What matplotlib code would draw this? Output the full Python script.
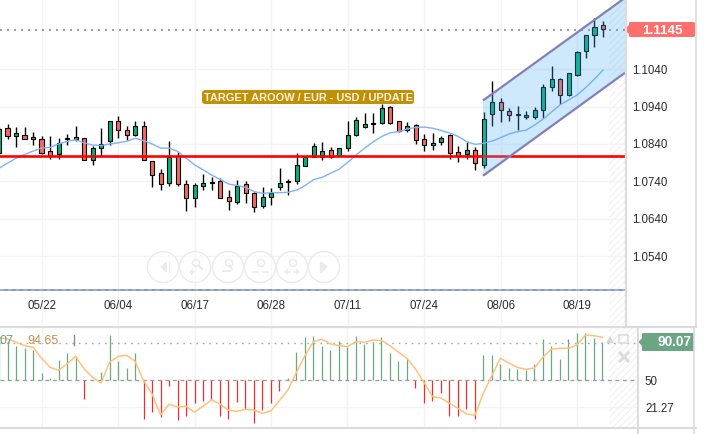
import numpy as np
import matplotlib
matplotlib.use('Agg')
import matplotlib.pyplot as plt
from matplotlib.patches import Circle, FancyBboxPatch, Polygon
from matplotlib.transforms import ScaledTranslation

plt.rcParams['font.family'] = ['Liberation Sans', 'DejaVu Sans']
plt.rcParams['hatch.linewidth'] = 0.7

opens = [1.0815,1.0882,1.0862,1.0863,1.0858,1.0853,1.0821,1.0812,1.0852,1.0858,1.0855,1.0798,
         1.0828,1.0849,1.0901,1.0877,1.0865,1.0887,1.0794,1.0762,1.0737,1.0809,1.0732,1.0697,
         1.0729,1.0737,1.0740,1.0698,1.0684,1.0732,1.0708,1.0675,1.0698,1.0724,1.0738,1.0740,
         1.0782,1.0805,1.0805,1.0825,1.0809,1.0828,1.0863,1.0884,1.0894,1.0897,1.0938,1.0901,
         1.0878,1.0890,1.0852,1.0836,1.0844,1.0863,1.0818,1.0812,1.0823,1.0785,1.0921,1.0951,
         1.0927,1.0916,1.0913,1.0913,1.0930,1.0991,1.1013,1.0970,1.1023,1.1087,1.1130,1.1157]
closes = [1.0880,1.0862,1.0869,1.0852,1.0852,1.0817,1.0809,1.0842,1.0855,1.0852,1.0797,1.0829,
          1.0839,1.0901,1.0876,1.0865,1.0887,1.0797,1.0758,1.0734,1.0805,1.0732,1.0695,1.0730,
          1.0735,1.0738,1.0695,1.0687,1.0727,1.0708,1.0673,1.0698,1.0708,1.0735,1.0740,1.0783,
          1.0806,1.0834,1.0821,1.0805,1.0829,1.0863,1.0903,1.0893,1.0895,1.0935,1.0895,1.0874,
          1.0887,1.0850,1.0836,1.0842,1.0855,1.0815,1.0809,1.0823,1.0788,1.0907,1.0951,1.0930,
          1.0918,1.0919,1.0916,1.0930,1.0991,1.1013,1.0970,1.1029,1.1085,1.1130,1.1151,1.1146]
highs = [1.0884,1.0894,1.0885,1.0885,1.0873,1.0862,1.0861,1.0855,1.0866,1.0887,1.0855,1.0834,
         1.0882,1.0901,1.0914,1.0889,1.0901,1.0901,1.0794,1.0773,1.0849,1.0818,1.0744,1.0735,
         1.0759,1.0751,1.0748,1.0718,1.0745,1.0740,1.0711,1.0724,1.0722,1.0775,1.0747,1.0815,
         1.0809,1.0842,1.0845,1.0831,1.0829,1.0901,1.0911,1.0923,1.0923,1.0947,1.0941,1.0901,
         1.0898,1.0894,1.0867,1.0869,1.0862,1.0867,1.0834,1.0845,1.0833,1.0924,1.1007,1.0962,
         1.0935,1.0942,1.0929,1.0938,1.1000,1.1047,1.1015,1.1029,1.1087,1.1130,1.1175,1.1167]
lows = [1.0812,1.0852,1.0833,1.0852,1.0838,1.0813,1.0800,1.0800,1.0838,1.0849,1.0797,1.0784,
        1.0809,1.0836,1.0855,1.0851,1.0860,1.0797,1.0726,1.0716,1.0729,1.0729,1.0662,1.0671,
        1.0717,1.0717,1.0695,1.0665,1.0680,1.0683,1.0659,1.0670,1.0678,1.0716,1.0705,1.0732,
        1.0780,1.0804,1.0796,1.0803,1.0809,1.0822,1.0860,1.0882,1.0869,1.0892,1.0894,1.0871,
        1.0871,1.0840,1.0822,1.0824,1.0836,1.0800,1.0793,1.0800,1.0771,1.0776,1.0889,1.0899,
        1.0902,1.0878,1.0907,1.0907,1.0909,1.0982,1.0947,1.0969,1.1022,1.1069,1.1100,1.1126]
ma_line = [1.0775,1.0789,1.0802,1.0812,1.0821,1.0829,1.0831,1.0840,1.0847,1.0851,1.0843,1.0837,
           1.0836,1.0840,1.0843,1.0847,1.0855,1.0849,1.0840,1.0829,1.0829,1.0820,1.0802,1.0784,
           1.0771,1.0757,1.0745,1.0733,1.0729,1.0724,1.0713,1.0708,1.0710,1.0710,1.0711,1.0717,
           1.0729,1.0745,1.0751,1.0762,1.0773,1.0791,1.0811,1.0829,1.0846,1.0860,1.0870,1.0873,
           1.0880,1.0884,1.0885,1.0882,1.0876,1.0869,1.0860,1.0846,1.0839,1.0842,1.0848,1.0857,
           1.0867,1.0873,1.0877,1.0891,1.0907,1.0926,1.0945,1.0958,1.0971,1.0991,1.1013,1.1037]

# indicator panel
osc_bars = [92.0,92.2,86.9,84.4,82.3,57.4,52.1,71.6,78.7,76.2,29.8,50.0,58.5,98.2,70.2,62.8,79.1,9.2,
            16.7,10.6,44.3,8.2,12.4,26.2,28.4,29.1,12.4,9.2,27.3,19.2,5.0,18.8,25.5,39.0,52.5,79.8,
            95.7,96.8,86.9,82.3,91.5,85.1,97.5,88.7,90.4,95.7,78.7,70.2,72.7,41.5,25.5,28.4,36.2,11.7,
            11.7,19.2,8.5,77.0,77.0,67.4,62.8,62.1,61.0,67.4,94.0,86.2,72.7,94.0,100.0,100.0,95.0,90.4]
osc_line = [95.0,94.0,90.4,86.9,85.1,73.4,63.8,60.6,67.4,75.5,62.1,53.2,47.2,69.1,75.5,76.6,70.2,49.6,
            35.5,13.1,24.5,21.6,22.3,16.0,22.3,29.1,24.8,18.1,17.0,19.2,18.1,14.9,17.4,28.4,39.7,58.5,
            76.2,91.1,93.6,88.7,86.9,85.8,91.1,90.4,92.9,92.2,86.9,79.8,73.4,62.1,47.9,32.6,31.2,25.5,
            20.2,14.2,12.8,36.2,55.0,73.4,68.4,63.8,61.7,63.1,74.5,83.0,84.0,84.0,87.6,97.9,97.5,95.7]

date_ticks = [5, 14, 23, 32, 41, 50, 59, 68]
date_labels = ['05/22', '06/04', '06/17', '06/28', '07/11', '07/24', '08/06', '08/19']
price_ticks = [1.1040, 1.0940, 1.0840, 1.0740, 1.0640, 1.0540]
osc_ticks = [50, 21.27]

last_price = 1.1145
last_osc = 90.07
red_level = 1.0808
blue_level = 1.0450
channel_x = [56.9, 73.6]
channel_top = [1.0956, 1.1230]
channel_bottom = [1.0755, 1.1030]

GREEN = '#00b27b'
RED = '#f8685f'
GRID = '#f3f3f3'
BORDER = '#dcdcdc'
TEXT = '#2b2b2b'

W, H = 704, 435
fig = plt.figure(figsize=(W / 100, H / 100), dpi=100)

xs = np.arange(len(opens))
colors = [GREEN if c >= o else RED for o, c in zip(opens, closes)]

# main panel, right edge at 625px
ax = fig.add_axes([0, 1 - 326 / H, 625 / W, 326 / H])
ax.set_xlim(0.106, 73.6)
ax.set_ylim(1.03567, 1.1227)
ax.set_xticks(date_ticks)
ax.set_xticklabels(date_labels, fontsize=8.3, color=TEXT)
ax.yaxis.tick_right()
ax.set_yticks(price_ticks)
ax.set_yticklabels(['%.4f' % p for p in price_ticks], fontsize=8.3, color=TEXT)
ax.tick_params(axis='x', length=0, pad=-19)
ax.tick_params(axis='y', length=0, pad=5)
for lab in ax.get_yticklabels():
    lab.set_transform(lab.get_transform() + ScaledTranslation(0, 1 / 100, fig.dpi_scale_trans))
ax.grid(True, color=GRID, lw=1)
ax.set_axisbelow(True)
for s in ax.spines.values():
    s.set_visible(False)
ax.axvspan(71.75, 73.6, facecolor='none', edgecolor='#efefef', hatch='/////', lw=0, zorder=0)

ax.axhline(blue_level, color='#6f9fe0', lw=1.4, zorder=1)
ax.axhline(blue_level, color='#b0b0b0', lw=1.4, ls=(0, (2, 2)), zorder=1)
ax.axhline(last_price, color='#8a8a8a', lw=1.2, ls=(0, (1.2, 3)), zorder=1)

ax.vlines(xs, lows, highs, color='black', lw=1.0, zorder=2)
ax.bar(xs, np.abs(np.array(closes) - np.array(opens)), bottom=np.minimum(opens, closes), width=0.5,
       color=colors, edgecolor='black', linewidth=0.8, zorder=3)
ax.plot(xs, ma_line, color='#7fb3f5', lw=1.0, zorder=4)
ax.axhline(red_level, color='#ff0000', lw=1.9, zorder=5)

ax.add_patch(Polygon([[channel_x[0], channel_top[0]], [channel_x[1], channel_top[1]],
                      [channel_x[1], channel_bottom[1]], [channel_x[0], channel_bottom[0]]],
                     closed=True, facecolor='#4fb0f5', alpha=0.28, lw=0, zorder=6))
ax.plot(channel_x, channel_top, color='#8180bb', lw=1.6, zorder=7, solid_capstyle='butt')
ax.plot(channel_x, channel_bottom, color='#8180bb', lw=1.6, zorder=7, solid_capstyle='butt')

# indicator panel
ax2 = fig.add_axes([0, 1 - 428 / H, 638 / W, 99 / H])
ax2.set_xlim(0.106, 75.2)
ax2.set_ylim(0.3, 105.6)
ax2.set_xticks(date_ticks)
ax2.set_xticklabels([])
ax2.yaxis.tick_right()
ax2.set_yticks(osc_ticks)
ax2.set_yticklabels(['50', '21.27'], fontsize=8.3, color=TEXT)
ax2.tick_params(axis='both', length=0)
ax2.tick_params(axis='y', pad=5)
for lab in ax2.get_yticklabels():
    lab.set_transform(lab.get_transform() + ScaledTranslation(0, 1 / 100, fig.dpi_scale_trans))
ax2.grid(True, color=GRID, lw=1)
ax2.set_axisbelow(True)
for s in ax2.spines.values():
    s.set_visible(False)
ax2.axvspan(71.75, 75.2, facecolor='none', edgecolor='#efefef', hatch='/////', lw=0, zorder=0)

bar_colors = ['#6aa884' if v >= 50 else '#e8302e' for v in osc_bars]
ax2.vlines(xs, 50, osc_bars, colors=bar_colors, lw=0.9, zorder=2)
ax2.axhline(50, color='#9a9a9a', lw=0.9, ls=(0, (3, 3)), zorder=3)
ax2.axhline(last_osc, color='#a8a8a8', lw=1.0, ls=(0, (1.2, 3.5)), zorder=3)
ax2.plot(xs, osc_line, color='#ffc27a', lw=1.1, zorder=4)

# chrome drawn in pixels on top
ov = fig.add_axes([0, 0, 1, 1], facecolor='none')
ov.set_xlim(0, W)
ov.set_ylim(H, 0)
ov.axis('off')

ov.plot([0, 696], [328, 328], color=BORDER, lw=1.6)
ov.plot([0, 696], [429, 429], color=BORDER, lw=1.6)
ov.plot([625.5, 625.5], [0, 327], color=BORDER, lw=1.6)
ov.plot([638, 638], [328, 435], color=BORDER, lw=1.4)
ov.plot([696, 696], [0, 328], color=BORDER, lw=1.2)
ov.plot([694, 694], [328, 435], color=BORDER, lw=1.2)

# price badges
ov.add_patch(FancyBboxPatch((629, 23), 66, 15, boxstyle='round,pad=0,rounding_size=1.5', fc='#ff6f6b', ec='none'))
ov.add_patch(Polygon([[629, 26], [624, 30.5], [629, 35]], closed=True, fc='#ff6f6b', ec='none'))
ov.text(662, 30.5, '%.4f' % last_price, color='white', fontsize=9.6, fontweight='bold', ha='center', va='center')
ov.add_patch(FancyBboxPatch((642, 334), 52, 18, boxstyle='round,pad=0,rounding_size=1', fc='#6ba583', ec='none'))
ov.add_patch(Polygon([[642, 339], [638.5, 343], [642, 347]], closed=True, fc='#6ba583', ec='none'))
ov.text(691, 342.5, '%.2f' % last_osc, color='white', fontsize=9.8, fontweight='bold', ha='right', va='center')

# annotation label
ov.add_patch(FancyBboxPatch((202, 91), 212, 14, boxstyle='round,pad=0,rounding_size=3.5', fc='#c09106', ec='none'))
ov.text(308, 98, 'TARGET AROOW / EUR - USD / UPDATE', color='#f7f3e0', fontsize=7.95, fontweight='bold',
        ha='center', va='center')

# indicator header
ov.text(-1, 341, '07', color='#6b9c82', fontsize=9, va='center')
ov.text(27, 341, '94.65', color='#c9924a', fontsize=9, va='center')
ov.plot([74, 74], [336, 346], color='#8a8a8a', lw=1)

# nav buttons
NAV = '#ebebeb'
nav_x = [163, 195, 228, 260, 292, 324]
for cx in nav_x:
    ov.add_patch(Circle((cx, 268), 15.5, fc=(1, 1, 1, 0.5), ec=NAV, lw=1))
ov.add_patch(Polygon([[160, 268], [167, 262], [167, 274]], closed=True, fc=NAV, ec='none'))
ov.plot([168.5, 168.5], [263, 273], color=NAV, lw=1)
ov.add_patch(Polygon([[328, 268], [321, 262], [321, 274]], closed=True, fc=NAV, ec='none'))
ov.plot([319.5, 319.5], [263, 273], color=NAV, lw=1)
for cx in nav_x[1:5]:
    ov.add_patch(Circle((cx + 1, 264), 3.5, fc='none', ec=NAV, lw=1.1))
ov.plot([199, 202], [267, 270], color=NAV, lw=1.5)
ov.plot([230, 232], [267, 270], color=NAV, lw=1.5)
ov.plot([190, 194, np.nan, 192, 192], [273, 273, np.nan, 271, 275], color=NAV, lw=1.3)
ov.plot([223, 230], [272, 272], color=NAV, lw=1.3)
ov.plot([253, 258, np.nan, 263, 268], [273, 273, np.nan, 273, 273], color=NAV, lw=1.2)
ov.plot([285, 290, np.nan, 294, 299, np.nan, 287, 287, np.nan, 297, 297], [273, 273, np.nan, 273, 273, np.nan, 271, 275, np.nan, 271, 275], color=NAV, lw=1.2)

# panel icons
ov.add_patch(Polygon([[606, 344], [610, 337], [614, 344]], closed=True, fc='#d8d8d8', ec='none'))
ov.plot([619, 628, 628, 619, 619], [336, 336, 344, 344, 336], color='#dddddd', lw=1.2)
ov.plot([620, 628, np.nan, 620, 628], [354, 362, np.nan, 362, 354], color='#dddddd', lw=2.2)

fig.savefig('out.png', dpi=100)
